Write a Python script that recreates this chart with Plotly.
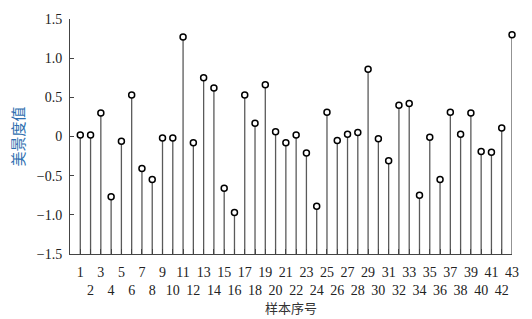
import plotly.graph_objects as go

samples = list(range(1, 44))
values = [0.02, 0.02, 0.30, -0.77, -0.06, 0.53, -0.41, -0.55, -0.02, -0.02,
          1.27, -0.08, 0.75, 0.62, -0.66, -0.97, 0.53, 0.17, 0.66, 0.06,
          -0.08, 0.02, -0.21, -0.89, 0.31, -0.05, 0.03, 0.05, 0.86, -0.03,
          -0.31, 0.40, 0.42, -0.75, -0.01, -0.55, 0.31, 0.03, 0.30, -0.19,
          -0.20, 0.11, 1.30]
y_ticks = [-1.5, -1.0, -0.5, 0, 0.5, 1.0, 1.5]
y_ticktext = ["\u22121.5", "\u22121.0", "\u22120.5", "0", "0.5", "1.0", "1.5"]
x_ticktext = [str(s) if s % 2 == 1 else "<br>" + str(s) for s in samples]
base = -1.5

sx, sy = [], []
for s, v in zip(samples, values):
    sx += [s, s, None]
    sy += [base, v, None]

fig = go.Figure()
fig.add_trace(go.Scatter(x=sx, y=sy, mode="lines",
                         line=dict(color="#5a5a5a", width=1.3),
                         hoverinfo="skip", showlegend=False, cliponaxis=False))
fig.add_trace(go.Scatter(x=samples, y=values, mode="markers",
                         marker=dict(symbol="circle", size=6, color="white",
                                     line=dict(color="black", width=1.5)),
                         showlegend=False, cliponaxis=False))

font_serif = "Liberation Serif, Times New Roman, serif"
fig.update_layout(
    width=532, height=319,
    margin=dict(l=70, r=20, t=12, b=64),
    plot_bgcolor="white", paper_bgcolor="white",
    font=dict(family=font_serif, size=13, color="#222"),
)
fig.update_xaxes(
    range=[0, 43], tickmode="array", tickvals=samples, ticktext=x_ticktext,
    ticks="inside", ticklen=5, tickcolor="#444", tickwidth=1,
    showline=True, linecolor="#444", linewidth=1, showgrid=False, zeroline=False,
    tickangle=0, ticklabelstandoff=5,
    tickfont=dict(family=font_serif, size=14, color="#222"),
    title=dict(text="样本序号", standoff=0,
               font=dict(family="Noto Sans CJK SC", size=13, color="#333")),
)
fig.update_yaxes(
    range=[-1.5, 1.5], tickmode="array", tickvals=y_ticks, ticktext=y_ticktext,
    ticks="inside", ticklen=4, tickcolor="#444", tickwidth=1,
    showline=True, linecolor="#444", linewidth=1, showgrid=False, zeroline=False,
    ticklabelstandoff=4,
    tickfont=dict(family=font_serif, size=14, color="#222"),
    title=dict(text="美景度值", standoff=8,
               font=dict(family="Noto Sans CJK SC", size=15, color="#2f6fb0")),
)
fig.write_html("out.html")
